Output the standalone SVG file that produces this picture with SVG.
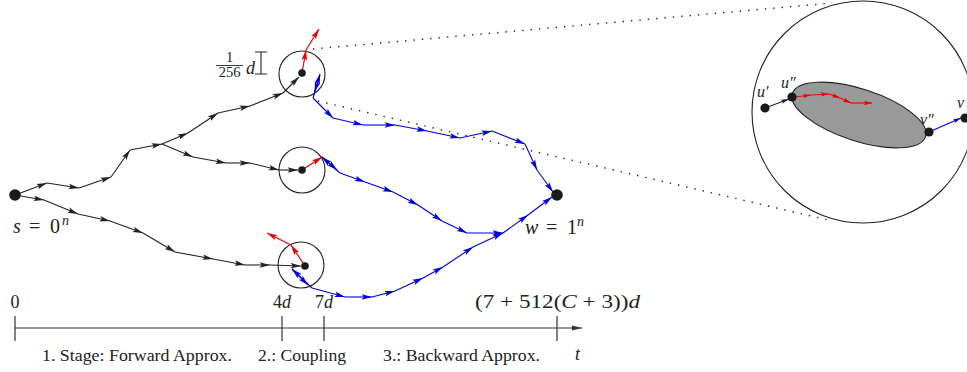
<svg xmlns="http://www.w3.org/2000/svg" width="967" height="372" viewBox="0 0 967 372">
<style>
.k{stroke:#222;stroke-width:1.1;fill:none;marker-end:url(#ak)}
.b{stroke:#0000dd;stroke-width:1.1;fill:none;marker-end:url(#ab)}
.r{stroke:#ee0000;stroke-width:1.2;fill:none;marker-end:url(#ar)}
.ks{stroke:#222;stroke-width:1.1;fill:none;marker-end:url(#aks)}
.bs{stroke:#0000dd;stroke-width:1.1;fill:none;marker-end:url(#abs)}
.rs{stroke:#ee0000;stroke-width:1.2;fill:none;marker-end:url(#ars)}
.ring{fill:none;stroke:#222;stroke-width:1.1}
.dot{fill:#1a1a1a}
.dots{fill:none;stroke:#222;stroke-width:1.4;stroke-dasharray:1.4 7}
.ax{stroke:#333;stroke-width:1.2;fill:none}
.m{font-family:"Liberation Serif",serif;fill:#222}
.i{font-style:italic}
</style>
<defs>
<marker id="ak" viewBox="0 0 10 6" refX="10" refY="3" markerWidth="11" markerHeight="6.2" markerUnits="userSpaceOnUse" orient="auto"><path d="M0,0.3L10,3L0,5.7L2,3z" fill="#222"/></marker>
<marker id="ab" viewBox="0 0 10 6" refX="10" refY="3" markerWidth="11" markerHeight="6.2" markerUnits="userSpaceOnUse" orient="auto"><path d="M0,0.3L10,3L0,5.7L2,3z" fill="#0000dd"/></marker>
<marker id="ar" viewBox="0 0 10 6" refX="10" refY="3" markerWidth="11" markerHeight="6.2" markerUnits="userSpaceOnUse" orient="auto"><path d="M0,0.3L10,3L0,5.7L2,3z" fill="#ee0000"/></marker>
<marker id="aks" viewBox="0 0 10 6" refX="10" refY="3" markerWidth="8" markerHeight="5" markerUnits="userSpaceOnUse" orient="auto"><path d="M0,0.3L10,3L0,5.7L2,3z" fill="#222"/></marker>
<marker id="abs" viewBox="0 0 10 6" refX="10" refY="3" markerWidth="8" markerHeight="5" markerUnits="userSpaceOnUse" orient="auto"><path d="M0,0.3L10,3L0,5.7L2,3z" fill="#0000dd"/></marker>
<marker id="ars" viewBox="0 0 10 6" refX="10" refY="3" markerWidth="8" markerHeight="5" markerUnits="userSpaceOnUse" orient="auto"><path d="M0,0.3L10,3L0,5.7L2,3z" fill="#ee0000"/></marker>
<marker id="axa" viewBox="0 0 10 6" refX="10" refY="3" markerWidth="10" markerHeight="6" markerUnits="userSpaceOnUse" orient="auto"><path d="M0,0.5L10,3L0,5.5z" fill="#333"/></marker>
</defs>

<g id="zoom-lines">
<path class="dots" d="M313,49L832,3"/>
<path class="dots" d="M318,101L828,220"/>
</g>

<g id="ring-top"><circle class="ring" cx="302" cy="74" r="23"/></g>
<g id="ring-mid"><circle class="ring" cx="302" cy="170" r="23"/></g>
<g id="ring-bot"><circle class="ring" cx="301" cy="265" r="23"/></g>

<g id="connectors">
<path class="k" d="M15,195L47,183"/>
<path class="k" d="M47,183L79,188"/>
<path class="k" d="M79,188L111,177"/>
<path class="k" d="M111,177L130,150"/>
<path class="k" d="M130,150L162,144"/>
<path class="k" d="M162,144L188,133"/>
<path class="k" d="M188,133L218,113"/>
<path class="k" d="M218,113L250,106"/>
<path class="k" d="M250,106L283,93"/>
<path class="k" d="M283,93L299,77"/>
<path class="k" d="M162,144L193,157"/>
<path class="k" d="M193,157L226,163"/>
<path class="k" d="M226,163L250,163"/>
<path class="k" d="M250,163L279,170"/>
<path class="k" d="M279,170L298,170"/>
<path class="k" d="M15,195L44,200"/>
<path class="k" d="M44,200L78,214"/>
<path class="k" d="M78,214L110,221"/>
<path class="k" d="M110,221L143,233"/>
<path class="k" d="M143,233L175,252"/>
<path class="k" d="M175,252L213,259"/>
<path class="k" d="M213,259L245,265"/>
<path class="k" d="M245,265L270,265"/>
<path class="k" d="M270,265L301,266"/>
<path class="r" d="M302,73L306,50"/>
<path class="r" d="M306,50L319,29"/>
<path class="r" d="M302,170L322,157"/>
<path class="r" d="M305,266L291,245"/>
<path class="r" d="M291,245L267,233"/>
<path class="b" d="M313,98L320,74"/>
<path class="b" d="M320,75L314.5,92"/>
<path class="b" d="M313,98L333,118"/>
<path class="b" d="M333,118L363,125"/>
<path class="b" d="M363,125L395,125"/>
<path class="b" d="M395,125L427,131"/>
<path class="b" d="M427,131L460,138"/>
<path class="b" d="M460,138L492,131"/>
<path class="b" d="M492,131L525,144"/>
<path class="b" d="M525,144L537,170"/>
<path class="b" d="M537,170L553,192"/>
<path class="b" d="M340,173L322,157"/>
<path class="b" d="M322,157L337,170"/>
<path class="b" d="M340,173L365,182"/>
<path class="b" d="M365,182L393,192"/>
<path class="b" d="M393,192L418,205"/>
<path class="b" d="M418,205L442,221"/>
<path class="b" d="M442,221L467,233"/>
<path class="b" d="M467,233L503,233"/>
<path class="b" d="M503,233L528,215"/>
<path class="b" d="M528,215L552,197"/>
<path class="b" d="M312,288L292,269"/>
<path class="b" d="M292,269L308,285"/>
<path class="b" d="M312,288L345,297"/>
<path class="b" d="M345,297L372,297"/>
<path class="b" d="M372,297L395,291"/>
<path class="b" d="M395,291L423,278"/>
<path class="b" d="M423,278L443,267"/>
<path class="b" d="M443,267L473,247"/>
<path class="b" d="M473,247L503,233"/>
</g>

<g id="dot-top"><circle class="dot" cx="302" cy="73" r="3.8"/></g>
<g id="dot-mid"><circle class="dot" cx="302" cy="170" r="3.8"/></g>
<g id="dot-bot"><circle class="dot" cx="305" cy="266" r="3.8"/></g>

<g id="node-s">
<circle class="dot" cx="15" cy="195" r="5.8"/>
<text class="m i" x="13" y="233" font-size="20">s</text>
<text class="m" x="29" y="233" font-size="20">=</text>
<text class="m" x="50" y="233" font-size="20">0</text>
<text class="m i" x="62" y="225" font-size="14">n</text>
</g>

<g id="node-w">
<circle class="dot" cx="557" cy="195" r="5.8"/>
<text class="m i" x="525" y="234" font-size="20">w</text>
<text class="m" x="546" y="234" font-size="20">=</text>
<text class="m" x="567" y="234" font-size="20">1</text>
<text class="m i" x="577" y="226" font-size="14">n</text>
</g>

<g id="scale">
<text class="m" x="229.5" y="62" font-size="14.5" text-anchor="middle">1</text>
<path d="M216,65.5H243" stroke="#222" stroke-width="0.9"/>
<text class="m" x="229.5" y="76.5" font-size="14.5" text-anchor="middle">256</text>
<text class="m i" x="246" y="74" font-size="18">d</text>
<path d="M261,52V74M255,52H267M255,74H267" stroke="#222" stroke-width="1.1" fill="none"/>
</g>

<g id="inset">
<circle class="ring" cx="863" cy="112" r="111"/>
<text class="m i" x="920" y="125" font-size="16">v″</text>
<ellipse cx="859" cy="115" rx="70" ry="26" transform="rotate(18 859 115)" fill="#999" stroke="#222" stroke-width="1.1"/>
<path class="rs" d="M795,97L811,95"/>
<path class="rs" d="M811,95L829,94"/>
<path class="rs" d="M829,94L840,98"/>
<path class="rs" d="M840,98L851,103"/>
<path class="rs" d="M851,103L872,103"/>
<path class="ks" d="M765,108L789,99"/>
<path class="bs" d="M929,132L961,118"/>
<circle class="dot" cx="765" cy="108" r="4.6"/>
<circle class="dot" cx="792" cy="97" r="4.6"/>
<circle class="dot" cx="929" cy="132" r="4.6"/>
<circle class="dot" cx="965" cy="118" r="4.6"/>
<text class="m i" x="757" y="97" font-size="16">u′</text>
<text class="m i" x="781" y="88" font-size="16">u″</text>
<text class="m i" x="957" y="108" font-size="16">v</text>
</g>

<g id="axis">
<path class="ax" d="M15,328H582" marker-end="url(#axa)"/>
<path class="ax" d="M15,316V341M282,316V341M324,316V341M557,316V341"/>
<text class="m" x="15" y="308" font-size="18" text-anchor="middle">0</text>
<text class="m" x="282" y="308" font-size="18" text-anchor="middle">4<tspan class="i">d</tspan></text>
<text class="m" x="324" y="308" font-size="18" text-anchor="middle">7<tspan class="i">d</tspan></text>
<text class="m" x="475" y="308" font-size="18" textLength="165" lengthAdjust="spacingAndGlyphs">(7 + 512(<tspan class="i">C</tspan> + 3))<tspan class="i">d</tspan></text>
<text class="m i" x="575" y="360" font-size="18">t</text>
<text class="m" x="42" y="361" font-size="16" textLength="190" lengthAdjust="spacingAndGlyphs">1. Stage: Forward Approx.</text>
<text class="m" x="258" y="361" font-size="16" textLength="88" lengthAdjust="spacingAndGlyphs">2.: Coupling</text>
<text class="m" x="383" y="361" font-size="16" textLength="157" lengthAdjust="spacingAndGlyphs">3.: Backward Approx.</text>
</g>
</svg>
